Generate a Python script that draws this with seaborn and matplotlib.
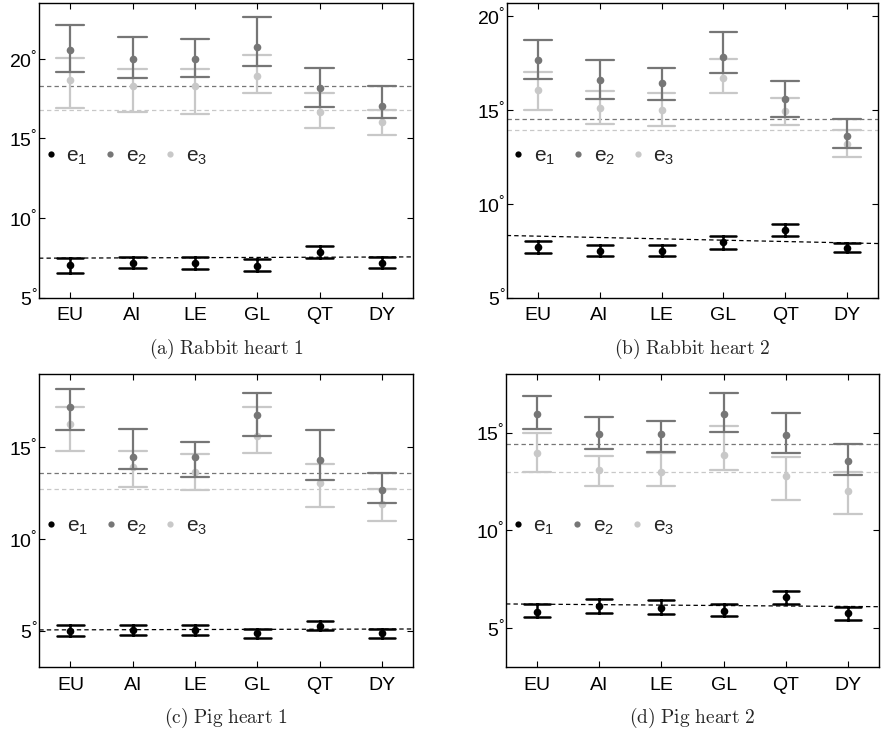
import numpy as np
import pandas as pd
import matplotlib
matplotlib.use('Agg')
import matplotlib.pyplot as plt
from matplotlib.lines import Line2D
import seaborn as sns

# methods on the x axis
methods = ['EU', 'AI', 'LE', 'GL', 'QT', 'DY']
series = ['e1', 'e2', 'e3']
colors = {'e1': '#000000', 'e2': '#767676', 'e3': '#c8c8c8'}

# (low, mean, high) per method, in degrees
rabbit1_e1 = [(6.56, 7.04, 7.48), (6.84, 7.19, 7.55), (6.82, 7.17, 7.55),
              (6.69, 6.96, 7.44), (7.47, 7.86, 8.24), (6.86, 7.19, 7.55)]
rabbit1_e2 = [(19.16, 20.57, 22.14), (18.79, 20.00, 21.38), (18.87, 20.00, 21.21),
              (19.52, 20.71, 22.60), (16.96, 18.16, 19.41), (16.25, 17.00, 18.28)]
rabbit1_e3 = [(16.90, 18.66, 20.04), (16.65, 18.26, 19.37), (16.54, 18.26, 19.33),
              (17.84, 18.91, 20.23), (15.66, 16.67, 17.84), (15.22, 16.02, 16.79)]

rabbit2_e1 = [(7.35, 7.69, 8.04), (7.22, 7.49, 7.81), (7.22, 7.49, 7.79),
              (7.58, 7.94, 8.29), (8.29, 8.61, 8.91), (7.44, 7.63, 7.92)]
rabbit2_e2 = [(16.64, 17.69, 18.75), (15.59, 16.60, 17.67), (15.52, 16.44, 17.24),
              (17.01, 17.86, 19.16), (14.64, 15.60, 16.58), (12.99, 13.63, 14.54)]
rabbit2_e3 = [(15.02, 16.05, 17.05), (14.27, 15.11, 16.03), (14.15, 15.00, 15.93),
              (15.91, 16.69, 17.72), (14.20, 14.96, 15.64), (12.49, 13.20, 13.93)]

pig1_e1 = [(4.71, 5.00, 5.33), (4.78, 5.05, 5.33), (4.74, 5.04, 5.29),
           (4.58, 4.85, 5.09), (5.02, 5.27, 5.53), (4.58, 4.85, 5.09)]
pig1_e2 = [(15.93, 17.21, 18.18), (13.80, 14.47, 15.99), (13.39, 14.47, 15.31),
           (15.62, 16.77, 17.97), (13.21, 14.29, 15.93), (11.95, 12.68, 13.59)]
pig1_e3 = [(14.80, 16.26, 17.21), (12.86, 13.92, 14.78), (12.68, 13.65, 14.64),
           (14.67, 15.62, 17.21), (11.73, 13.03, 14.07), (10.99, 11.90, 12.70)]

pig2_e1 = [(5.56, 5.85, 6.24), (5.76, 6.12, 6.47), (5.73, 6.05, 6.44),
           (5.63, 5.90, 6.25), (6.22, 6.58, 6.92), (5.41, 5.78, 6.10)]
pig2_e2 = [(15.19, 15.95, 16.88), (14.14, 14.95, 15.81), (14.00, 14.93, 15.59),
           (15.02, 15.97, 17.03), (13.98, 14.88, 15.98), (12.85, 13.56, 14.41)]
pig2_e3 = [(12.97, 13.97, 14.97), (12.25, 13.10, 13.83), (12.29, 12.98, 13.95),
           (13.07, 13.86, 15.32), (11.54, 12.80, 13.73), (10.85, 12.00, 12.98)]

# dashed reference lines: (value at left edge, value at right edge)
rabbit1_ref = {'e1': (7.47, 7.55), 'e2': (18.30, 18.30), 'e3': (16.79, 16.79)}
rabbit2_ref = {'e1': (8.31, 7.88), 'e2': (14.54, 14.54), 'e3': (13.93, 13.93)}
pig1_ref = {'e1': (5.04, 5.09), 'e2': (13.59, 13.59), 'e3': (12.70, 12.70)}
pig2_ref = {'e1': (6.24, 6.10), 'e2': (14.42, 14.42), 'e3': (12.97, 12.97)}

panels = [
    ('(a) Rabbit heart 1', {'e1': rabbit1_e1, 'e2': rabbit1_e2, 'e3': rabbit1_e3},
     rabbit1_ref, (5, 23.5), [5, 10, 15, 20]),
    ('(b) Rabbit heart 2', {'e1': rabbit2_e1, 'e2': rabbit2_e2, 'e3': rabbit2_e3},
     rabbit2_ref, (5, 20.72), [5, 10, 15, 20]),
    ('(c) Pig heart 1', {'e1': pig1_e1, 'e2': pig1_e2, 'e3': pig1_e3},
     pig1_ref, (3, 19), [5, 10, 15]),
    ('(d) Pig heart 2', {'e1': pig2_e1, 'e2': pig2_e2, 'e3': pig2_e3},
     pig2_ref, (3, 18), [5, 10, 15]),
]


def to_long(vals):
    rows = []
    for s, triples in vals.items():
        for m, t in zip(methods, triples):
            for v in t:
                rows.append({'series': s, 'method': m, 'value': v})
    return pd.DataFrame(rows)


sns.set_style('ticks')
plt.rcParams['font.family'] = ['Liberation Sans', 'DejaVu Sans']
plt.rcParams['mathtext.fontset'] = 'cm'

fig = plt.figure(figsize=(8.81, 7.34), dpi=100)
boxes = [(39 / 881, 1 - 297.5 / 734, 374 / 881, 294.5 / 734),
         (506.7 / 881, 1 - 297.5 / 734, 371.6 / 881, 294.5 / 734),
         (39.3 / 881, 1 - 667.3 / 734, 374 / 881, 293.3 / 734),
         (506 / 881, 1 - 667.3 / 734, 373 / 881, 293.3 / 734)]

for (title, vals, ref, ylim, yticks), box in zip(panels, boxes):
    ax = fig.add_axes(box)
    df = to_long(vals)

    # reference lines first, then e3, e2, e1 on top
    for s in ['e3', 'e2', 'e1']:
        ax.plot([-0.5, 5.5], ref[s], ls='--', dashes=(3.5, 2.5), lw=0.9,
                color=colors[s], zorder=1)
    for s in ['e3', 'e2', 'e1']:
        sub = df[df['series'] == s]
        sns.pointplot(data=sub, x='method', y='value', order=methods,
                      estimator='median', errorbar=('pi', 100),
                      color=colors[s], capsize=0.42 if s == 'e1' else 0.45,
                      linestyle='none', markersize=5.5, markeredgewidth=0,
                      err_kws={'linewidth': 1.8 if s == 'e1' else 1.6},
                      ax=ax)

    ax.set_xlim(-0.5, 5.5)
    ax.set_ylim(*ylim)
    ax.set_yticks(yticks)
    ax.set_yticklabels([r'$\mathregular{%d^{°}}$' % t for t in yticks])
    ax.set_xlabel('')
    ax.set_ylabel('')
    ax.tick_params(direction='in', length=4, width=0.8, top=True, right=True,
                   labelsize=14, colors='black')
    ax.tick_params(axis='x', pad=7)
    ax.tick_params(axis='y', pad=1)
    for sp in ax.spines.values():
        sp.set_visible(True)
        sp.set_linewidth(1.0)
        sp.set_color('black')

    handles = [Line2D([], [], ls='none', marker='o', markersize=4.5,
                      markeredgewidth=0, color=colors[s]) for s in series]
    labels = [r'$\mathregular{e_%s}$' % s[1] for s in series]
    ax.legend(handles, labels, loc='center left',
              bbox_to_anchor=(0.0035, 0.479), ncol=3, frameon=False,
              fontsize=15, handlelength=1.0, handletextpad=0.25,
              columnspacing=0.6, borderaxespad=0, borderpad=0)

    cx = box[0] + box[2] / 2
    cy = box[1] - 51 / 734
    fig.text(cx, cy, r'$\mathrm{%s}$' % title.replace(' ', r'\ '),
             ha='center', va='center', fontsize=14)

fig.savefig('out.png', dpi=100)
